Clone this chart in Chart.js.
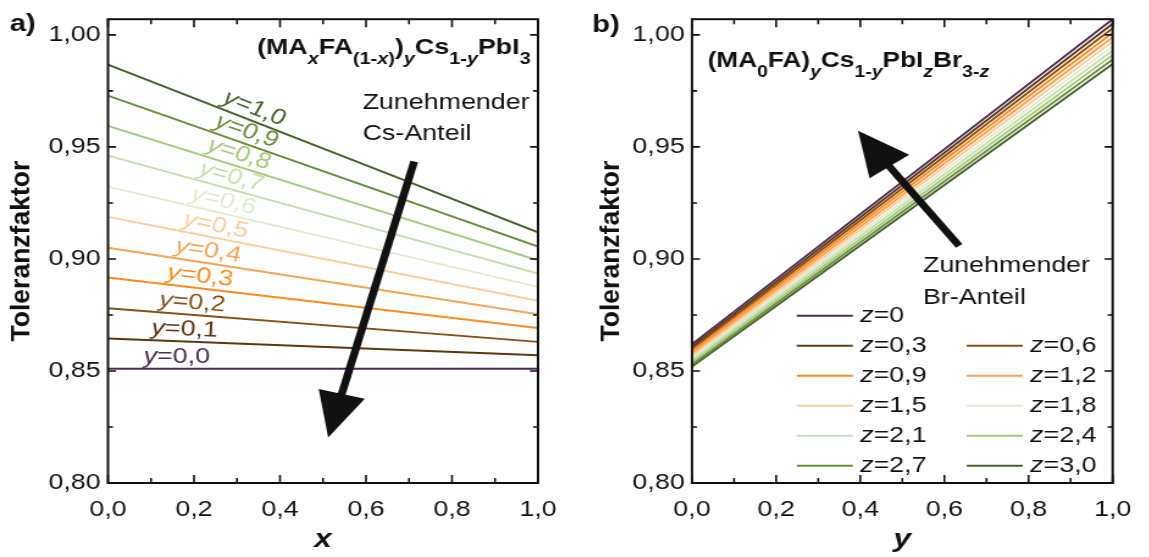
<!DOCTYPE html>
<html>
<head>
<meta charset="utf-8">
<script src="https://cdn.jsdelivr.net/npm/chart.js@4"></script>
<style>
  html, body { margin: 0; padding: 0; background: #fff; overflow: hidden; }
  .panel { position: absolute; top: 0; transform-origin: 0 0; transform: scaleX(1.22); }
</style>
</head>
<body>
<canvas id="panelA" class="panel" width="471" height="557" style="left:0"></canvas>
<canvas id="panelB" class="panel" width="470" height="557" style="left:575px"></canvas>
<script>
// axis ticks (both panels share them)
const xTicks = [0, 0.2, 0.4, 0.6, 0.8, 1.0];
const xTickLabels = ['0,0', '0,2', '0,4', '0,6', '0,8', '1,0'];
const yTicks = [0.80, 0.85, 0.90, 0.95, 1.00];
const yTickLabels = ['0,80', '0,85', '0,90', '0,95', '1,00'];

// panel a: tolerance factor vs x for each Cs share y
const csLevels = ['0,0', '0,1', '0,2', '0,3', '0,4', '0,5', '0,6', '0,7', '0,8', '0,9', '1,0'];
const tolA_x0 = [0.851, 0.8645, 0.878, 0.8917, 0.905, 0.9188, 0.9323, 0.9461, 0.9594, 0.9729, 0.9867];
const tolA_x1 = [0.851, 0.857, 0.863, 0.8692, 0.8753, 0.8813, 0.8875, 0.8935, 0.8994, 0.9055, 0.9119];

// panel b: tolerance factor vs y for each iodide content z
const brLevels = ['0', '0,3', '0,6', '0,9', '1,2', '1,5', '1,8', '2,1', '2,4', '2,7', '3,0'];
const tolB_y0 = [0.862, 0.861, 0.860, 0.859, 0.858, 0.857, 0.856, 0.855, 0.854, 0.853, 0.852];
const tolB_y1 = [1.007, 1.005, 1.003, 1.001, 0.999, 0.997, 0.995, 0.993, 0.991, 0.989, 0.987];

const palette = ['#4e2a5a', '#5c3710', '#8a4f17', '#ff8a1c', '#fca253', '#fdcb9c',
                 '#e0ebd0', '#c7dfad', '#a6ca7e', '#6a8f3c', '#46622a'];

const FONT = '"Liberation Sans", Arial, sans-serif';
const INK = '#111';
const S = 1.22; // horizontal stretch of the canvases (see CSS)

Chart.defaults.font.family = FONT;
Chart.defaults.color = INK;

function fontFor(flags, size) {
  const sz = flags.includes('s') ? size * 0.74 : size;
  return (flags.includes('i') ? 'italic ' : '') + (flags.includes('b') ? 'bold ' : '') + sz + 'px ' + FONT;
}

// draws a run of [text, flags] parts; flags: b=bold, i=italic, s=subscript
function richText(ctx, parts, x, y, size, align) {
  let w = 0;
  parts.forEach(([t, f]) => { ctx.font = fontFor(f, size); w += ctx.measureText(t).width; });
  let cx = align === 'center' ? x - w / 2 : align === 'right' ? x - w : x;
  ctx.textAlign = 'left';
  parts.forEach(([t, f]) => {
    ctx.font = fontFor(f, size);
    ctx.fillText(t, cx, y + (f.includes('s') ? size * 0.45 : 0));
    cx += ctx.measureText(t).width;
  });
}

function arrow(ctx, x0, y0, x1, y1, shaftW, headL, headW) {
  const dx = x1 - x0, dy = y1 - y0, len = Math.hypot(dx, dy);
  const ux = dx / len, uy = dy / len, nx = -uy, ny = ux;
  const bx = x1 - ux * headL, by = y1 - uy * headL;
  ctx.save();
  ctx.strokeStyle = INK; ctx.fillStyle = INK;
  ctx.lineWidth = shaftW; ctx.lineCap = 'butt';
  ctx.beginPath(); ctx.moveTo(x0, y0); ctx.lineTo(bx + ux * 2, by + uy * 2); ctx.stroke();
  ctx.beginPath();
  ctx.moveTo(x1, y1);
  ctx.lineTo(bx + nx * headW, by + ny * headW);
  ctx.lineTo(bx - nx * headW, by - ny * headW);
  ctx.closePath(); ctx.fill();
  ctx.restore();
}

function midpoints(arr) {
  const out = [];
  for (let i = 0; i < arr.length - 1; i++) out.push((arr[i] + arr[i + 1]) / 2);
  return out;
}

// box frame with inward ticks on all four sides
function drawFrame(chart) {
  const { ctx, chartArea: a, scales: { x, y } } = chart;
  ctx.save();
  ctx.strokeStyle = INK;
  ctx.lineWidth = 1.6;
  const tick = (list, len) => {
    list.forEach(v => {
      const px = x.getPixelForValue(v);
      ctx.beginPath();
      ctx.moveTo(px, a.bottom); ctx.lineTo(px, a.bottom - len);
      ctx.moveTo(px, a.top); ctx.lineTo(px, a.top + len);
      ctx.stroke();
    });
  };
  const tickY = (list, len) => {
    list.filter(v => v <= y.max).forEach(v => {
      const py = y.getPixelForValue(v);
      ctx.beginPath();
      ctx.moveTo(a.left, py); ctx.lineTo(a.left + len / S, py);
      ctx.moveTo(a.right, py); ctx.lineTo(a.right - len / S, py);
      ctx.stroke();
    });
  };
  tick(xTicks, 8); tick(midpoints(xTicks), 5);
  tickY(yTicks, 8); tickY(midpoints(yTicks).concat([1.025]), 5);
  ctx.lineWidth = 2;
  ctx.strokeRect(a.left, a.top, a.right - a.left, a.bottom - a.top);
  ctx.restore();
}

// rotated axis title, drawn unstretched
function drawYTitle(chart, cx) {
  const { ctx, chartArea: a } = chart;
  ctx.save();
  ctx.translate(cx, (a.top + a.bottom) / 2);
  ctx.scale(1 / S, 1);
  ctx.rotate(-Math.PI / 2);
  ctx.fillStyle = INK;
  ctx.font = 'bold 26.5px ' + FONT;
  ctx.textAlign = 'center';
  ctx.textBaseline = 'middle';
  ctx.fillText('Toleranzfaktor', 0, 0);
  ctx.restore();
}

function scalesFor(xTitle, yAxisWidth) {
  return {
    x: {
      type: 'linear', min: 0, max: 1,
      afterBuildTicks: s => { s.ticks = xTicks.map(v => ({ value: v })); },
      afterFit: s => { s.height = 74; },
      grid: { display: false, drawTicks: false },
      border: { display: false },
      ticks: { callback: (v, i) => xTickLabels[i], padding: 14, maxRotation: 0, autoSkip: false,
               font: { size: 22 }, color: INK },
      title: { display: true, text: xTitle, padding: { top: 0, bottom: 2 },
               font: { size: 26, weight: 'bold', style: 'italic' }, color: INK }
    },
    y: {
      type: 'linear', min: 0.8, max: 1.007,
      afterBuildTicks: s => { s.ticks = yTicks.map(v => ({ value: v })); },
      afterFit: s => { s.width = yAxisWidth; },
      grid: { display: false, drawTicks: false },
      border: { display: false },
      ticks: { callback: (v, i) => yTickLabels[i], padding: 6, font: { size: 22 }, color: INK }
    }
  };
}

function lineSet(label, color, v0, v1) {
  return {
    label: label,
    data: [{ x: 0, y: v0 }, { x: 1, y: v1 }],
    borderColor: color,
    borderWidth: 1.9,
    pointRadius: 0,
    fill: false
  };
}

const commonOptions = {
  responsive: false,
  animation: false,
  events: [],
  plugins: { legend: { display: false }, tooltip: { enabled: false } }
};

// ---------- panel a ----------
const decoA = {
  id: 'decoA',
  afterDatasetsDraw(chart) {
    const { ctx, scales: { x, y } } = chart;
    drawFrame(chart);
    drawYTitle(chart, 18.4);
    ctx.save();
    ctx.fillStyle = INK;
    ctx.textBaseline = 'alphabetic';
    ctx.font = 'bold 24px ' + FONT;
    ctx.textAlign = 'left';
    ctx.fillText('a)', 8, 31);

    richText(ctx, [['(MA', 'b'], ['x', 'bis'], ['FA', 'b'], ['(1-', 'bs'], ['x', 'bis'], [')', 'bs'],
                   [')', 'b'], ['y', 'bis'], ['Cs', 'b'], ['1-', 'bs'], ['y', 'bis'], ['PbI', 'b'], ['3', 'bs']],
             x.getPixelForValue(0.3465), y.getPixelForValue(0.9915), 22, 'left');

    ctx.font = '22px ' + FONT;
    ctx.textAlign = 'left';
    ctx.fillText('Zunehmender', x.getPixelForValue(0.592), y.getPixelForValue(0.9667));
    ctx.fillText('Cs-Anteil', x.getPixelForValue(0.592), y.getPixelForValue(0.9529));

    // curve labels, tilted along their lines
    const xl = x.getPixelForValue(0), xr = x.getPixelForValue(1);
    csLevels.forEach((lvl, i) => {
      const lx = 0.16 + 0.0166 * i;
      const v = tolA_x0[i] + (tolA_x1[i] - tolA_x0[i]) * lx;
      const px = x.getPixelForValue(lx), py = y.getPixelForValue(v);
      const ang = Math.atan2(y.getPixelForValue(tolA_x1[i]) - y.getPixelForValue(tolA_x0[i]), xr - xl);
      ctx.save();
      ctx.translate(px + Math.sin(ang) * 12, py - Math.cos(ang) * 12);
      ctx.rotate(ang);
      ctx.fillStyle = palette[i];
      ctx.textBaseline = 'middle';
      richText(ctx, [['y', 'i'], ['=' + lvl, '']], 0, 0, 22, 'center');
      ctx.restore();
    });

    arrow(ctx, x.getPixelForValue(0.712), y.getPixelForValue(0.9435),
               x.getPixelForValue(0.512), y.getPixelForValue(0.8203), 6.5, 45, 19.5);
    ctx.restore();
  }
};

new Chart(document.getElementById('panelA'), {
  type: 'line',
  data: { datasets: csLevels.map((lvl, i) => lineSet('y=' + lvl, palette[i], tolA_x0[i], tolA_x1[i])) },
  options: Object.assign({}, commonOptions, {
    layout: { padding: { top: 7, right: 30, bottom: 0, left: 0 } },
    scales: scalesFor('x', 88.5)
  }),
  plugins: [decoA]
});

// ---------- panel b ----------
const decoB = {
  id: 'decoB',
  afterDatasetsDraw(chart) {
    const { ctx, scales: { x, y } } = chart;
    drawFrame(chart);
    drawYTitle(chart, 30.3);
    ctx.save();
    ctx.fillStyle = INK;
    ctx.textBaseline = 'alphabetic';
    ctx.font = 'bold 24px ' + FONT;
    ctx.textAlign = 'left';
    ctx.fillText('b)', 14, 32);

    richText(ctx, [['(MA', 'b'], ['0', 'bs'], ['FA)', 'b'], ['y', 'bis'], ['Cs', 'b'], ['1-', 'bs'], ['y', 'bis'],
                   ['PbI', 'b'], ['z', 'bis'], ['Br', 'b'], ['3-', 'bs'], ['z', 'bis']],
             x.getPixelForValue(0.037), y.getPixelForValue(0.9855), 21.5, 'left');

    ctx.font = '22px ' + FONT;
    ctx.textAlign = 'left';
    ctx.fillText('Zunehmender', x.getPixelForValue(0.549), y.getPixelForValue(0.8940));
    ctx.fillText('Br-Anteil', x.getPixelForValue(0.549), y.getPixelForValue(0.8800));

    arrow(ctx, x.getPixelForValue(0.635), y.getPixelForValue(0.9058),
               x.getPixelForValue(0.3947), y.getPixelForValue(0.9572), 6.5, 44, 20);

    // legend: first entry alone, then two columns
    const colX = [x.getPixelForValue(0.249), x.getPixelForValue(0.653)];
    const row0 = y.getPixelForValue(0.8746);
    chart.data.datasets.forEach((ds, i) => {
      const row = Math.floor((i + 1) / 2);
      const col = i === 0 ? 0 : (i + 1) % 2;
      const lx = colX[col], ly = row0 + row * 30;
      ctx.strokeStyle = ds.borderColor;
      ctx.lineWidth = 2;
      ctx.beginPath(); ctx.moveTo(lx, ly); ctx.lineTo(lx + 46, ly); ctx.stroke();
      ctx.fillStyle = INK;
      ctx.textBaseline = 'middle';
      richText(ctx, [['z', 'i'], ['=' + brLevels[i], '']], lx + 52, ly, 22, 'left');
    });
    ctx.restore();
  }
};

new Chart(document.getElementById('panelB'), {
  type: 'line',
  data: { datasets: brLevels.map((lvl, i) => lineSet('z=' + lvl, palette[i], tolB_y0[i], tolB_y1[i])) },
  options: Object.assign({}, commonOptions, {
    layout: { padding: { top: 7, right: 21.6, bottom: 0, left: 0 } },
    scales: scalesFor('y', 95.9)
  }),
  plugins: [decoB]
});
</script>
</body>
</html>
